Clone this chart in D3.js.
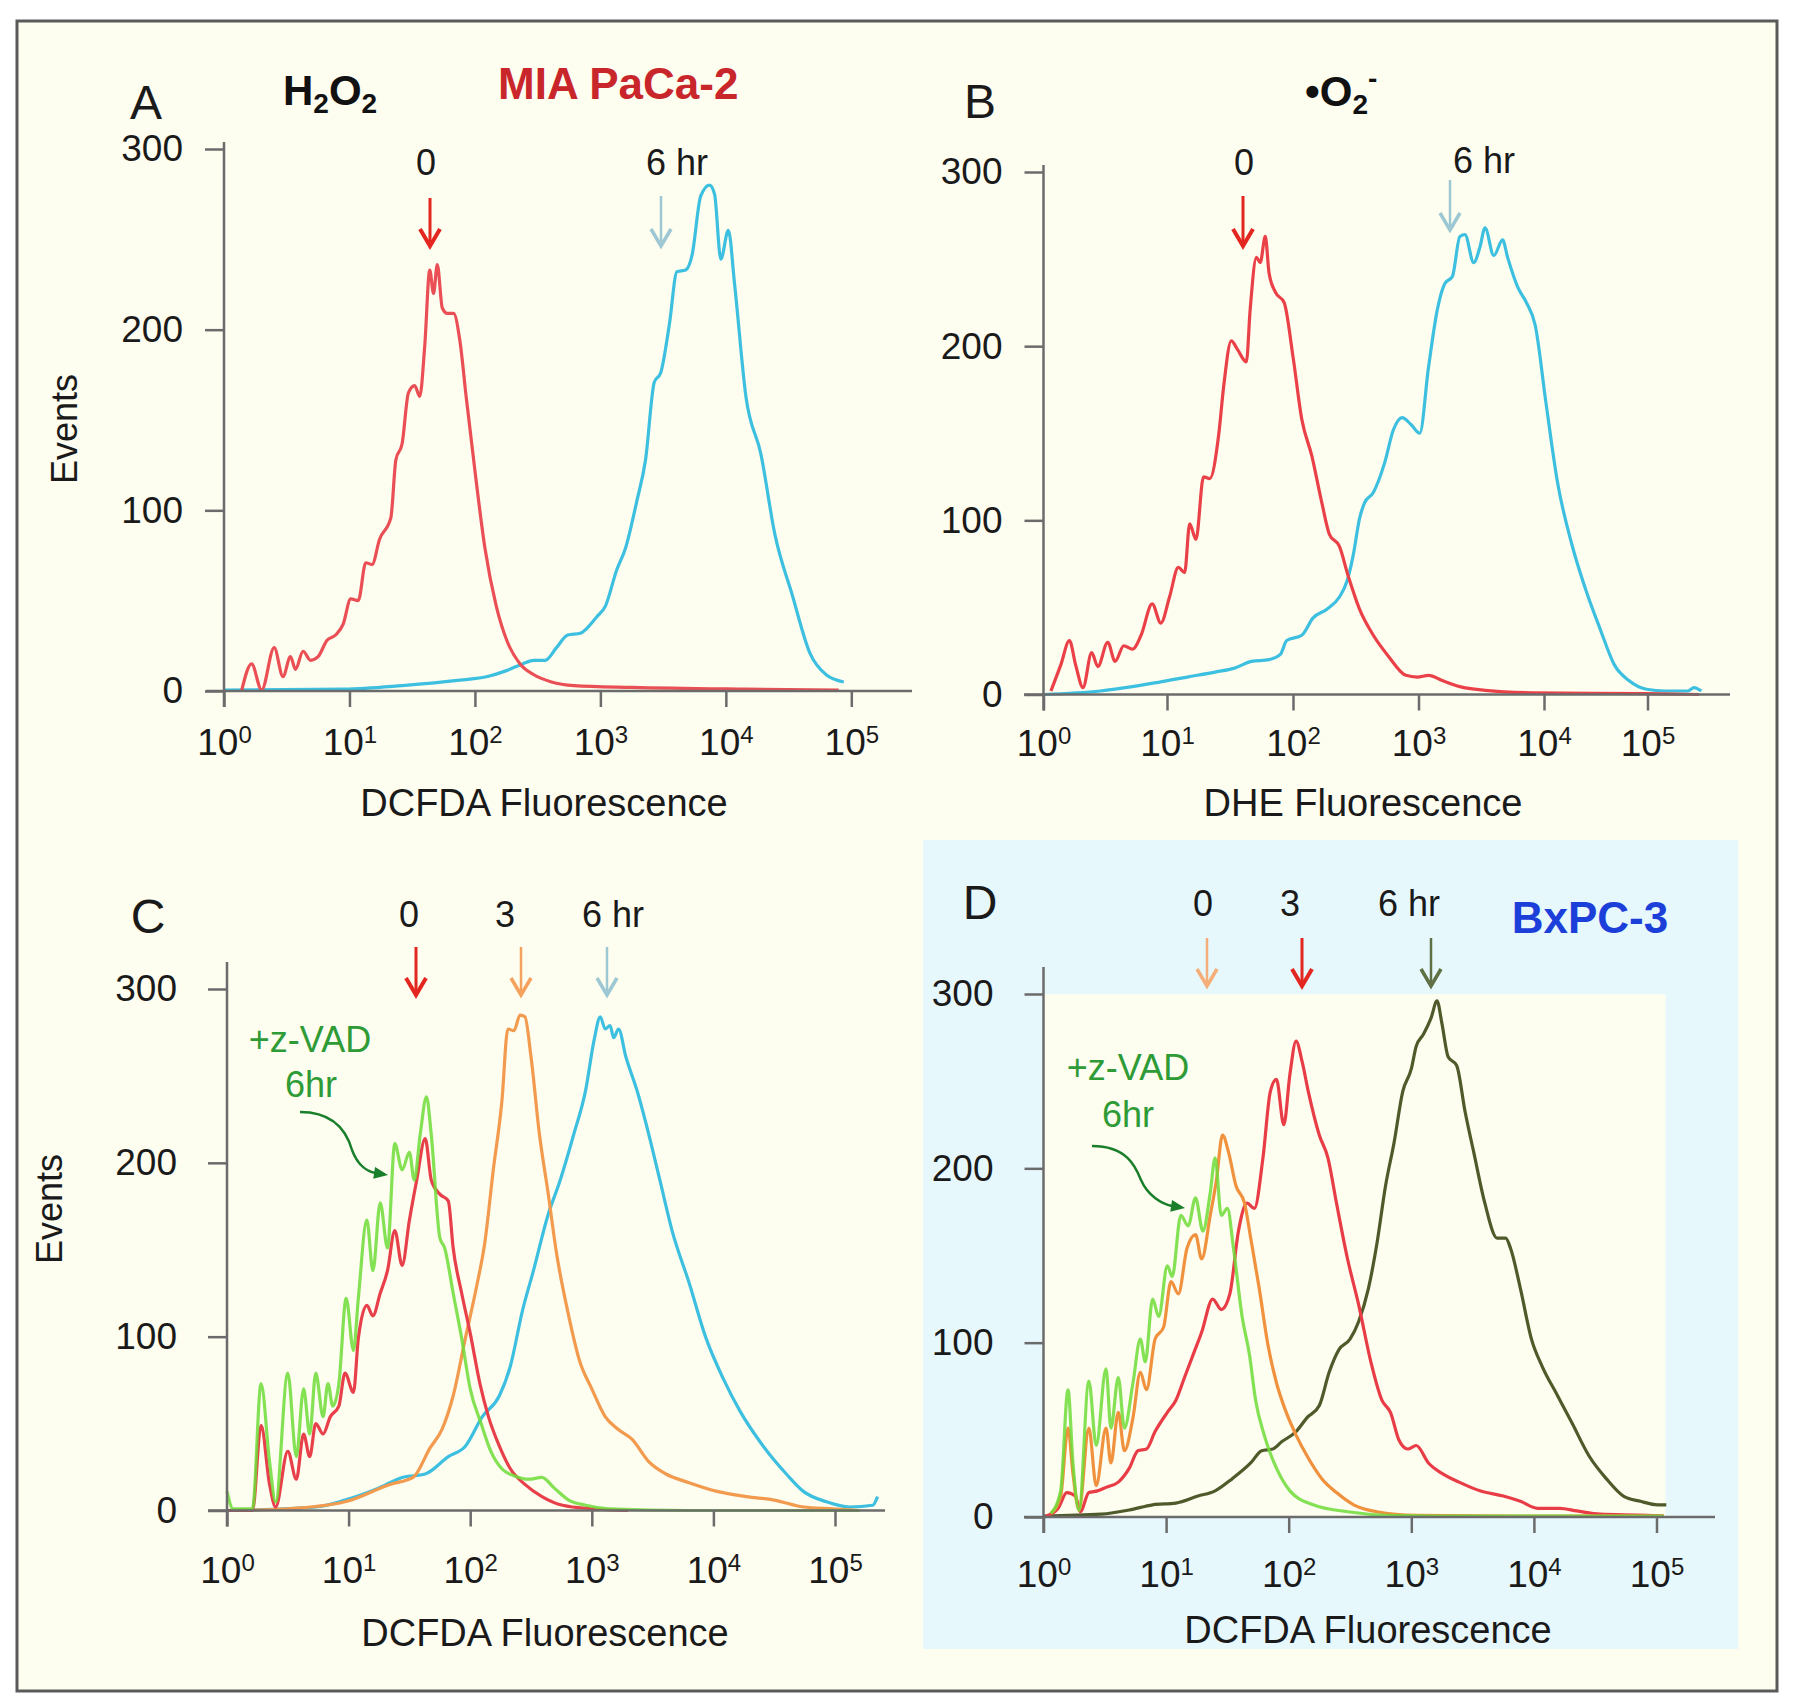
<!DOCTYPE html>
<html><head><meta charset="utf-8">
<script src="https://cdn.jsdelivr.net/npm/d3@7"></script>
<style>html,body{margin:0;padding:0;background:#fff}svg{display:block}</style>
</head><body>
<svg id="c" width="1800" height="1704"></svg>
<script>
// ---------- DATA (x = log10 fluorescence decade, y = events) ----------
const yTicks = [0, 100, 200, 300];
const xDecades = [0, 1, 2, 3, 4, 5];

const aRed = [[0.14,0],[0.22,15],[0.30,0.5],[0.40,24],[0.47,8],[0.53,19],[0.57,12],[0.63,22],[0.69,17],[0.75,19],[0.82,28],[0.89,31],[0.95,37],[1.01,51],[1.07,50],[1.13,71],[1.18,70],[1.24,84],[1.33,96],[1.37,128],[1.42,137],[1.47,165],[1.52,169],[1.56,163],[1.60,191],[1.64,233],[1.67,220],[1.70,236],[1.74,212],[1.78,209],[1.83,209],[1.88,194],[1.93,163],[2.00,122],[2.08,79],[2.17,47],[2.26,27],[2.36,15],[2.47,9],[2.61,5],[2.79,3],[3.25,2],[4.16,1],[4.9,0.5]];
const aCyan = [[0,0.5],[0.96,1],[1.42,3],[1.88,6],[2.1,8],[2.24,11],[2.38,15],[2.47,17],[2.56,17],[2.65,24],[2.74,31],[2.84,32],[2.97,41],[3.04,47],[3.13,67],[3.20,79],[3.29,105],[3.36,128],[3.43,171],[3.48,176],[3.55,203],[3.61,232],[3.68,233],[3.73,241],[3.80,274],[3.87,280],[3.91,275],[3.96,239],[4.02,255],[4.07,225],[4.16,163],[4.28,131],[4.39,87],[4.53,53],[4.67,21],[4.80,9],[4.94,5]];

const bRed = [[0.06,2],[0.14,17],[0.21,31],[0.26,17],[0.32,4],[0.39,24],[0.44,16],[0.52,30],[0.58,19],[0.65,28],[0.72,26],[0.79,34],[0.88,52],[0.95,41],[1.02,56],[1.09,73],[1.14,70],[1.18,98],[1.23,89],[1.29,125],[1.34,124],[1.41,149],[1.45,177],[1.51,203],[1.56,198],[1.63,191],[1.66,221],[1.71,251],[1.74,248],[1.78,263],[1.81,242],[1.86,231],[1.93,225],[2.00,194],[2.07,158],[2.15,137],[2.23,110],[2.29,92],[2.37,85],[2.44,68],[2.53,49],[2.64,34],[2.76,22],[2.90,11],[2.99,10],[3.08,11],[3.19,8],[3.33,4.5],[3.53,2.4],[3.9,1],[4.99,0.5],[5.5,0]];
const bCyan = [[0,0],[0.46,2],[0.93,7],[1.16,10],[1.39,13],[1.53,15],[1.67,19],[1.81,20],[1.90,23],[1.95,31],[2.07,34],[2.16,44],[2.27,49],[2.37,56],[2.43,65],[2.48,80],[2.53,101],[2.57,110],[2.64,116],[2.73,133],[2.80,152],[2.87,159],[2.94,155],[3.01,150],[3.08,188],[3.15,221],[3.21,236],[3.27,240],[3.33,263],[3.37,264],[3.44,248],[3.49,257],[3.53,268],[3.60,252],[3.67,261],[3.71,251],[3.79,234],[3.86,225],[3.93,212],[4.02,167],[4.13,122],[4.27,86],[4.41,59],[4.54,38],[4.68,17],[4.82,8],[4.99,3],[5.17,2],[5.39,2],[5.45,4],[5.52,2]];

const cRed = [[0,0],[0.21,0],[0.28,49],[0.35,15],[0.40,2],[0.50,34],[0.57,18],[0.63,44],[0.68,31],[0.73,50],[0.79,44],[0.85,54],[0.92,60],[0.97,79],[1.04,68],[1.08,99],[1.15,118],[1.20,112],[1.26,125],[1.32,138],[1.38,161],[1.44,141],[1.50,167],[1.56,190],[1.63,214],[1.68,190],[1.75,182],[1.82,178],[1.86,151],[1.93,125],[2.00,102],[2.08,73],[2.15,54],[2.24,37],[2.33,24],[2.45,15],[2.59,8],[2.76,3],[3.0,1],[3.3,0]];
const cGreen = [[0,11],[0.05,1],[0.21,1],[0.28,73],[0.35,28],[0.40,5],[0.50,79],[0.57,31],[0.63,70],[0.68,44],[0.73,79],[0.79,54],[0.83,73],[0.87,60],[0.92,73],[0.98,122],[1.04,92],[1.08,122],[1.15,167],[1.20,138],[1.26,177],[1.32,151],[1.38,211],[1.44,196],[1.50,206],[1.54,190],[1.59,217],[1.64,238],[1.68,216],[1.75,157],[1.79,151],[1.86,125],[1.93,99],[2.00,70],[2.09,50],[2.17,34],[2.26,24],[2.36,20],[2.48,18],[2.59,19],[2.69,13],[2.81,6],[2.95,3],[3.14,1],[3.8,0],[5.2,0]];
const cOrange = [[0,0],[0.5,1],[0.97,5],[1.34,15],[1.53,19],[1.67,36],[1.77,47],[1.86,66],[1.96,99],[2.05,128],[2.12,154],[2.19,196],[2.26,235],[2.31,277],[2.36,276],[2.41,285],[2.45,284],[2.50,261],[2.57,216],[2.64,183],[2.71,148],[2.81,112],[2.90,86],[3.0,70],[3.11,54],[3.21,47],[3.33,41],[3.47,28],[3.61,21],[3.80,16],[4.03,11],[4.27,8],[4.5,6],[4.74,2],[4.98,1],[5.2,0]];
const cCyan = [[0,0],[0.73,2],[0.97,6],[1.25,13],[1.44,19],[1.63,21],[1.82,31],[1.96,37],[2.10,54],[2.24,66],[2.33,83],[2.43,115],[2.52,138],[2.64,170],[2.74,190],[2.85,216],[2.95,242],[3.02,271],[3.07,284],[3.11,277],[3.15,279],[3.18,272],[3.22,277],[3.28,261],[3.37,242],[3.47,216],[3.56,190],[3.66,161],[3.80,131],[3.94,99],[4.08,76],[4.22,57],[4.41,37],[4.60,21],[4.74,11],[4.93,5],[5.12,2],[5.31,3],[5.35,8]];

const dGreen = [[0.06,2],[0.14,15],[0.20,73],[0.24,31],[0.29,4],[0.37,78],[0.43,41],[0.51,85],[0.55,51],[0.61,80],[0.66,51],[0.73,77],[0.79,102],[0.83,89],[0.89,125],[0.94,115],[1.01,144],[1.05,138],[1.12,173],[1.18,167],[1.24,183],[1.30,164],[1.36,186],[1.40,206],[1.45,173],[1.50,177],[1.55,154],[1.62,115],[1.68,93],[1.73,67],[1.80,47],[1.90,28],[2.01,15],[2.20,7],[2.48,3],[2.81,1],[3.5,0.5],[5.06,0.5]];
const dOrange = [[0.06,2],[0.14,12],[0.20,51],[0.24,25],[0.29,4],[0.37,51],[0.43,18],[0.51,51],[0.55,31],[0.61,60],[0.66,38],[0.73,57],[0.79,83],[0.84,73],[0.91,102],[0.98,109],[1.04,135],[1.10,128],[1.17,154],[1.24,162],[1.29,148],[1.36,173],[1.41,193],[1.46,219],[1.51,209],[1.57,190],[1.64,180],[1.69,160],[1.76,131],[1.83,99],[1.90,77],[1.98,60],[2.06,47],[2.15,35],[2.27,22],[2.39,14],[2.53,7],[2.72,3],[3.04,1],[3.98,0.5],[5.06,0.5]];
const dRed = [[0.02,0.5],[0.12,5],[0.19,14],[0.26,12],[0.30,3],[0.37,14],[0.44,15],[0.51,17],[0.61,20],[0.70,28],[0.77,38],[0.84,39],[0.91,49],[1.01,60],[1.08,67],[1.15,80],[1.22,93],[1.29,106],[1.38,125],[1.45,119],[1.52,128],[1.59,164],[1.66,180],[1.72,177],[1.79,206],[1.85,244],[1.90,251],[1.96,225],[2.01,254],[2.06,273],[2.11,261],[2.16,244],[2.25,219],[2.32,206],[2.39,180],[2.48,148],[2.57,122],[2.67,89],[2.76,67],[2.83,60],[2.90,44],[2.97,39],[3.04,41],[3.14,31],[3.25,25],[3.39,20],[3.56,15],[3.75,12],[3.89,9],[4.03,5],[4.21,5],[4.35,3.5],[4.54,1.6],[4.92,1],[5.06,0.5]];
const dOlive = [[0,0.5],[0.47,1.6],[0.70,4],[0.89,7],[1.08,8],[1.26,12],[1.40,15],[1.54,22],[1.69,31],[1.78,38],[1.87,39],[1.94,43],[2.06,49],[2.15,57],[2.25,64],[2.33,83],[2.41,96],[2.50,102],[2.57,112],[2.65,131],[2.72,157],[2.79,190],[2.86,215],[2.93,244],[3.00,257],[3.04,270],[3.10,277],[3.16,286],[3.21,296],[3.25,283],[3.30,264],[3.37,259],[3.44,232],[3.51,209],[3.60,180],[3.70,160],[3.77,160],[3.81,154],[3.89,131],[3.98,102],[4.07,86],[4.19,70],[4.31,54],[4.45,35],[4.59,22],[4.73,12],[4.87,9],[5.01,7],[5.08,7]];

// ---------- LAYOUT ----------
const FONT = "'Liberation Sans', Arial, Helvetica, sans-serif";
const AX = '#6b6b6b';
const svg = d3.select('#c').attr('font-family', FONT);

svg.append('rect').attr('width',1800).attr('height',1704).attr('fill','#ffffff');
svg.append('rect').attr('x',17).attr('y',21).attr('width',1760).attr('height',1670)
   .attr('fill','#fdfdf0').attr('stroke','#5a5a5a').attr('stroke-width',3);
// BxPC-3 panel background
svg.append('rect').attr('x',923).attr('y',840).attr('width',815).attr('height',809).attr('fill','#e6f8fc');
svg.append('rect').attr('x',1043.5).attr('y',994).attr('width',622).attr('height',523).attr('fill','#fdfdf0');

const panels = [
  {xDom:[0,5], xRng:[224,851.3], yRng:[691,149], xStart:206, xEnd:912, yTop:142, yPad:22, xLab:64,
   series:[[aCyan,'#3dbfe0',1],[aRed,'#ea4f55',1]]},
  {xDom:[0,1,2,3,4,5], xRng:[1043.5,1167,1293,1418.5,1544,1647.5], yRng:[694.5,172], xStart:1024, xEnd:1730, yTop:165, yPad:22, xLab:61,
   series:[[bCyan,'#3dbfe0',1],[bRed,'#ea4048',1]]},
  {xDom:[0,5], xRng:[227,835], yRng:[1510.5,989], xStart:208, xEnd:885, yTop:962, yPad:31, xLab:72,
   series:[[cCyan,'#3dbfe0',1],[cOrange,'#f29a4e',1],[cRed,'#e8404a',1],[cGreen,'#6edc38',0.85]]},
  {xDom:[0,5], xRng:[1043.5,1656.5], yRng:[1517,994], xStart:1024, xEnd:1715, yTop:967, yPad:31, xLab:70,
   series:[[dOlive,'#4e5a2a',1],[dRed,'#e83c46',1],[dOrange,'#f0913e',1],[dGreen,'#6edc38',0.85]]}
];

panels.forEach(p => {
  const g = svg.append('g');
  const x = d3.scaleLinear().domain(p.xDom).range(p.xRng);
  const y = d3.scaleLinear().domain([0,300]).range(p.yRng);
  const x0 = x(0), y0 = y(0);

  // curves
  const line = d3.line().x(d => x(d[0])).y(d => y(d[1])).curve(d3.curveMonotoneX);
  p.series.forEach(([data, col, op]) => {
    g.append('path').datum(data).attr('d', line).attr('fill','none')
     .attr('stroke', col).attr('stroke-width', 3.2).attr('stroke-opacity', op)
     .attr('stroke-linejoin','round');
  });

  // axes
  const xa = g.append('g').attr('transform', `translate(0,${y0})`)
    .call(d3.axisBottom(x).tickValues(xDecades).tickSize(16).tickSizeOuter(0));
  xa.select('.domain').remove();
  xa.selectAll('.tick line').attr('stroke', AX).attr('stroke-width', 2.5);
  xa.selectAll('.tick text').each(function(d){
    const t = d3.select(this);
    t.text(null).attr('y', p.xLab).attr('dy', 0).attr('font-size', 37).attr('fill', '#1a1a1a')
     .attr('font-family', FONT).attr('text-anchor','middle');
    t.append('tspan').text('10');
    t.append('tspan').attr('font-size', 24).attr('dy', -12).text(d);
  });

  const ya = g.append('g').attr('transform', `translate(${x0},0)`)
    .call(d3.axisLeft(y).tickValues(yTicks).tickSize(19).tickPadding(p.yPad).tickSizeOuter(0));
  ya.select('.domain').remove();
  ya.selectAll('.tick line').attr('stroke', AX).attr('stroke-width', 2.5);
  ya.selectAll('.tick text').attr('font-size', 37).attr('fill', '#1a1a1a').attr('font-family', FONT);

  g.append('line').attr('x1', p.xStart).attr('x2', p.xEnd).attr('y1', y0).attr('y2', y0)
    .attr('stroke', AX).attr('stroke-width', 2.5);
  g.append('line').attr('x1', x0).attr('x2', x0).attr('y1', p.yTop).attr('y2', y0 + 16)
    .attr('stroke', AX).attr('stroke-width', 2.5);
});

// ---------- TEXT & ANNOTATIONS ----------
function txt(x, y, s, size, opts = {}) {
  return svg.append('text').attr('x', x).attr('y', y).attr('font-size', size)
    .attr('text-anchor', opts.anchor || 'middle').attr('fill', opts.fill || '#1a1a1a')
    .attr('font-weight', opts.weight || 'normal').text(s);
}
function arrow(x, y1, y2, color, w) {
  svg.append('line').attr('x1', x).attr('x2', x).attr('y1', y1).attr('y2', y2 - 4)
    .attr('stroke', color).attr('stroke-width', w);
  svg.append('path').attr('d', `M${x-10},${y2-17} L${x},${y2} L${x+10},${y2-17}`)
    .attr('fill', 'none').attr('stroke', color).attr('stroke-width', w + 1).attr('stroke-linejoin', 'miter');
}

// panel letters
txt(146, 119, 'A', 48); txt(980, 118, 'B', 48); txt(148, 933, 'C', 48); txt(980, 919, 'D', 48);

// H2O2
const h = svg.append('text').attr('x', 283).attr('y', 105).attr('font-size', 42).attr('font-weight', 'bold').attr('fill', '#111');
h.append('tspan').text('H');
h.append('tspan').attr('font-size', 28).attr('dy', 8).text('2');
h.append('tspan').attr('dy', -8).text('O');
h.append('tspan').attr('font-size', 28).attr('dy', 8).text('2');
// superoxide
const o = svg.append('text').attr('x', 1305).attr('y', 106).attr('font-size', 42).attr('font-weight', 'bold').attr('fill', '#111');
o.append('tspan').text('•O');
o.append('tspan').attr('font-size', 28).attr('dy', 8).text('2');
o.append('tspan').attr('font-size', 28).attr('dy', -26).text('-');

txt(498, 99, 'MIA PaCa-2', 44, {anchor: 'start', weight: 'bold', fill: '#c9262c'});
txt(1590, 933, 'BxPC-3', 44, {weight: 'bold', fill: '#1d3fd9'});

// time labels
txt(426, 175, '0', 36); txt(677, 175, '6 hr', 36);
txt(1244, 175, '0', 36); txt(1484, 173, '6 hr', 36);
txt(409, 927, '0', 36); txt(505, 927, '3', 36); txt(613, 927, '6 hr', 36);
txt(1203, 916, '0', 36); txt(1290, 916, '3', 36); txt(1409, 916, '6 hr', 36);

// arrows
arrow(430, 198, 246, '#e3261f', 3); arrow(661, 196, 246, '#9dc8d3', 2.5);
arrow(1243, 196, 246, '#e3261f', 3); arrow(1450, 180, 230, '#9dc8d3', 2.5);
arrow(416, 947, 995, '#e3261f', 3); arrow(521, 947, 995, '#f5a25e', 2.5); arrow(607, 947, 995, '#9dc8d3', 2.5);
arrow(1207, 938, 986, '#f5ae78', 2.5); arrow(1302, 938, 986, '#e3261f', 3); arrow(1431, 938, 986, '#5f7044', 2.5);

// z-VAD annotations
const GT = '#2e9b36', GA = '#1a7f2a';
txt(310, 1052, '+z-VAD', 36, {fill: GT}); txt(311, 1097, '6hr', 36, {fill: GT});
txt(1128, 1080, '+z-VAD', 36, {fill: GT}); txt(1128, 1127, '6hr', 36, {fill: GT});
function curvedArrow(d, tip, ang) {
  svg.append('path').attr('d', d).attr('fill', 'none').attr('stroke', GA).attr('stroke-width', 2.5);
  const [tx, ty] = tip, L = 14, W = 6, ca = Math.cos(ang), sa = Math.sin(ang);
  const bx = tx - L * ca, by = ty - L * sa;
  svg.append('path').attr('d', `M${tx},${ty} L${bx - W*sa},${by + W*ca} L${bx + W*sa},${by - W*ca} Z`).attr('fill', GA);
}
curvedArrow('M300,1112 C338,1112 348,1136 352,1150 C358,1166 368,1172 376,1173', [388, 1175], 0.15);
curvedArrow('M1092,1146 C1128,1146 1136,1168 1141,1180 C1148,1196 1162,1204 1172,1206', [1185, 1208], 0.15);

// axis titles
svg.append('text').attr('transform', 'translate(77,429) rotate(-90)').attr('text-anchor', 'middle')
   .attr('font-size', 36).attr('fill', '#1a1a1a').text('Events');
svg.append('text').attr('transform', 'translate(62,1209) rotate(-90)').attr('text-anchor', 'middle')
   .attr('font-size', 36).attr('fill', '#1a1a1a').text('Events');
txt(544, 816, 'DCFDA Fluorescence', 38);
txt(1363, 816, 'DHE Fluorescence', 38);
txt(545, 1646, 'DCFDA Fluorescence', 38);
txt(1368, 1643, 'DCFDA Fluorescence', 38);
</script>
</body></html>
